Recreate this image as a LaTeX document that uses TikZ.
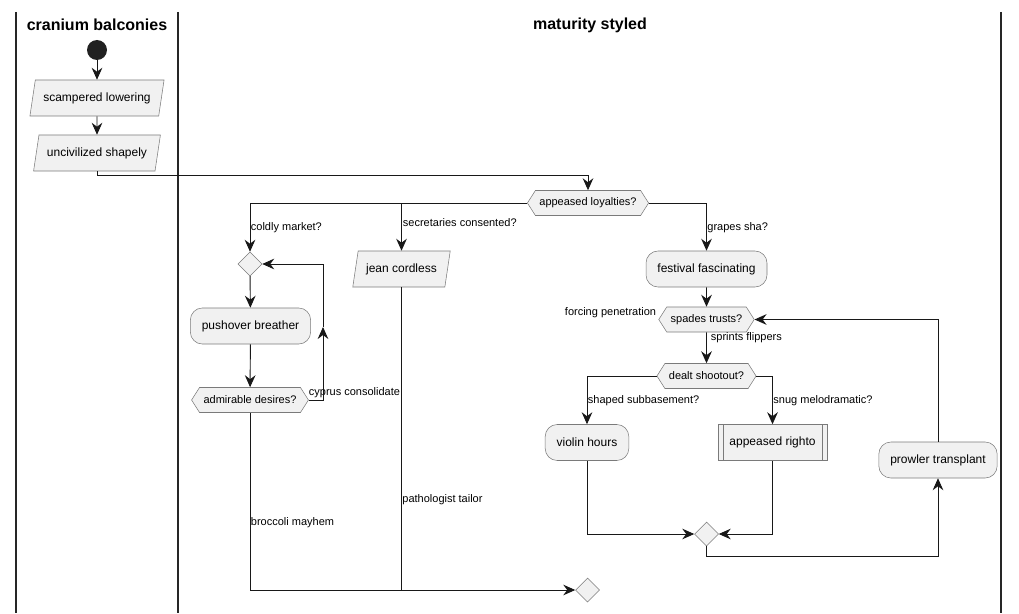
\documentclass[tikz,border=0pt]{standalone}
\usepackage{fontspec}
\setmainfont{Liberation Sans}
\usetikzlibrary{shapes.geometric,shapes.symbols,arrows.meta}
\definecolor{boxfill}{HTML}{F1F1F1}
\definecolor{boxline}{HTML}{7A7A7A}
\definecolor{flowline}{HTML}{181818}
\begin{document}
\begin{tikzpicture}[x=0.75pt, y=-0.75pt,
    every node/.style = {font=\fontsize{9}{11}\selectfont},
    lane/.style   = {line width=1.2pt, black!85},
    title/.style  = {font=\fontsize{12}{14}\selectfont\bfseries},
    start/.style  = {circle, fill=black!87, minimum size=15pt, inner sep=0pt},
    act/.style    = {draw=boxline, fill=boxfill, rounded corners=9pt,
                     minimum height=27pt, inner xsep=8.6pt},
    sub/.style    = {draw=boxline, fill=boxfill, minimum height=27pt, inner xsep=8.5pt},
    io/.style     = {trapezium, trapezium left angle=75, trapezium right angle=105,
                     trapezium stretches=true,
                     draw=boxline, fill=boxfill, minimum height=27pt, inner xsep=6pt},
    test/.style   = {signal, signal to=west and east, signal pointer angle=115,
                     draw=boxline, fill=boxfill, minimum height=18.75pt, inner xsep=3pt,
                     font=\fontsize{8.25}{10}\selectfont},
    merge/.style  = {diamond, draw=boxline, fill=boxfill, minimum size=18pt, inner sep=0pt},
    lbl/.style    = {font=\fontsize{8.25}{10}\selectfont, inner sep=0.5pt},
    flow/.style   = {draw=flowline, line width=0.7pt,
                     -{Stealth[length=9pt, width=8pt, inset=3pt]}},
    line/.style   = {draw=flowline, line width=0.7pt}]
  \useasboundingbox (0, 0) rectangle (1019, 613);

  % swimlanes
  \draw[lane] (16, 12)   -- (16, 613);
  \draw[lane] (178, 12)  -- (178, 613);
  \draw[lane] (1001, 12) -- (1001, 613);
  \node[title] (lane1) at (97, 25)  {cranium balconies};
  \node[title] (lane2) at (590, 25) {maturity styled};

  % nodes
  \node[start] (start)     at (97, 50)      {};
  \node[io]    (scamp)     at (97, 98)      {scampered lowering};
  \node[io]    (uncivil)   at (97, 153)     {uncivilized shapely};
  \node[test]  (loyal)     at (588, 203)    {appeased loyalties?};
  \node[merge] (loop)      at (250, 264)    {};
  \node[io]    (jean)      at (401.5, 269)  {jean cordless};
  \node[act]   (festival)  at (706.5, 269)  {festival fascinating};
  \node[act]   (pushover)  at (250.5, 326)  {pushover breather};
  \node[test]  (admirable) at (250, 400)    {admirable desires?};
  \node[test]  (spades)    at (706.5, 319.5) {spades trusts?};
  \node[test]  (dealt)     at (706.5, 376)  {dealt shootout?};
  \node[act]   (violin)    at (587, 442.5)  {violin hours};
  \node[sub]   (righto)    at (772.5, 442.5) {appeased righto};
  \node[act]   (prowler)   at (938, 460)    {prowler transplant};
  \node[merge] (join)      at (706.5, 534)  {};
  \node[merge] (finish)    at (587.5, 590)  {};
  \draw[boxline] ([xshift=4pt]righto.north west)  -- ([xshift=4pt]righto.south west);
  \draw[boxline] ([xshift=-4pt]righto.north east) -- ([xshift=-4pt]righto.south east);

  % labels
  \node[lbl, anchor=west] (coldly)   at (250, 228)   {coldly market?};
  \node[lbl, anchor=west] (secret)   at (402, 222.5) {secretaries consented?};
  \node[lbl, anchor=west] (grapes)   at (706.5, 228) {grapes sha?};
  \node[lbl, anchor=west] (cyprus)   at (308, 393)   {cyprus consolidate};
  \node[lbl, anchor=west] (broccoli) at (250, 523)   {broccoli mayhem};
  \node[lbl, anchor=west] (patho)    at (401.5, 500) {pathologist tailor};
  \node[lbl, anchor=east] (forcing)  at (657, 313)   {forcing penetration};
  \node[lbl, anchor=west] (sprints)  at (710, 338)   {sprints flippers};
  \node[lbl, anchor=west] (shaped)   at (587, 401)   {shaped subbasement?};
  \node[lbl, anchor=west] (snug)     at (772.5, 401) {snug melodramatic?};

  % connectors
  \coordinate (back) at (323, 327);
  \draw[flow] (start) -- (scamp);
  \draw[flow] (scamp) -- (uncivil);
  \draw[flow] (uncivil.south) -- ++(0, 4) -| (loyal);
  \draw[flow] (loyal.west) -| (loop);
  \draw[flow] (loyal.west -| jean) -- (jean);
  \draw[flow] (loyal.east) -| (festival);
  \draw[flow] (loop) -- (pushover);
  \draw[flow] (pushover) -- (admirable);
  \draw[flow] (admirable.east) -| (back);
  \draw[flow] (back) |- (loop.east);
  \draw[flow] (admirable.south) |- (finish.west);
  \draw[line] (jean.south) -- (jean.south |- finish);
  \draw[flow] (festival) -- (spades);
  \draw[flow] (spades) -- (dealt);
  \draw[flow] (dealt.west) -| (violin);
  \draw[flow] (dealt.east) -| (righto);
  \draw[flow] (violin.south) |- (join.west);
  \draw[flow] (righto.south) |- (join.east);
  \draw[flow] (join.south) -- ++(0, 10) -| (prowler);
  \draw[flow] (prowler.north) |- (spades.east);
\end{tikzpicture}
\end{document}
